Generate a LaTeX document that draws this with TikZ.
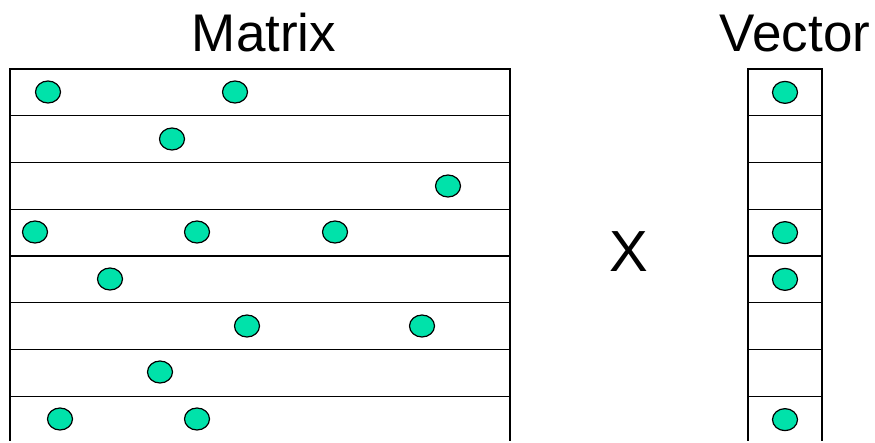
\documentclass[tikz,border=0pt]{standalone}
\usepackage{fontspec}
\setmainfont{Liberation Sans}
\usetikzlibrary{shapes.geometric}
\definecolor{dotgreen}{RGB}{0,226,170}
\tikzset{
  rowbox/.style={draw=black, line width=1.3pt, rectangle, minimum width=500pt, minimum height=46.75pt, inner sep=0pt, outer sep=0pt},
  vecbox/.style={draw=black, line width=1.3pt, rectangle, minimum width=74pt, minimum height=46.75pt, inner sep=0pt, outer sep=0pt},
  dot/.style={draw=black, line width=1.2pt, fill=dotgreen, ellipse, minimum width=25pt, minimum height=22pt, inner sep=0pt},
  title/.style={font=\fontsize{53}{60}\selectfont, anchor=base, inner sep=0pt},
}
\begin{document}
\begin{tikzpicture}[x=1pt,y=-1pt]
\useasboundingbox (0,0) rectangle (875,442);
\clip (0,0) rectangle (875,440.5);
\node[title] (mt) at (264,51) {Matrix};
\node[title] (vt) at (795,51) {Vector};
\node[title, font=\fontsize{58}{64}\selectfont] (times) at (629,271) {X};
\foreach \i in {1,...,8}{
  \node[rowbox] (r\i) at (260,{69+46.75*(\i-0.5)}) {};
  \node[vecbox] (v\i) at (785,{69+46.75*(\i-0.5)}) {};
}
% matrix dots
\node[dot] (d11) at (48,92) {};
\node[dot] (d12) at (235,92) {};
\node[dot] (d21) at (172,139) {};
\node[dot] (d31) at (448,186) {};
\node[dot] (d41) at (35,232) {};
\node[dot] (d42) at (197,232) {};
\node[dot] (d43) at (335,232) {};
\node[dot] (d51) at (110,279) {};
\node[dot] (d61) at (247,326) {};
\node[dot] (d62) at (422,326) {};
\node[dot] (d71) at (160,372) {};
\node[dot] (d81) at (60,419) {};
\node[dot] (d82) at (197,419) {};
% vector dots
\node[dot] (e1) at (v1) {};
\node[dot] (e4) at (v4) {};
\node[dot] (e5) at (v5) {};
\node[dot] (e8) at (v8) {};
\end{tikzpicture}
\end{document}
